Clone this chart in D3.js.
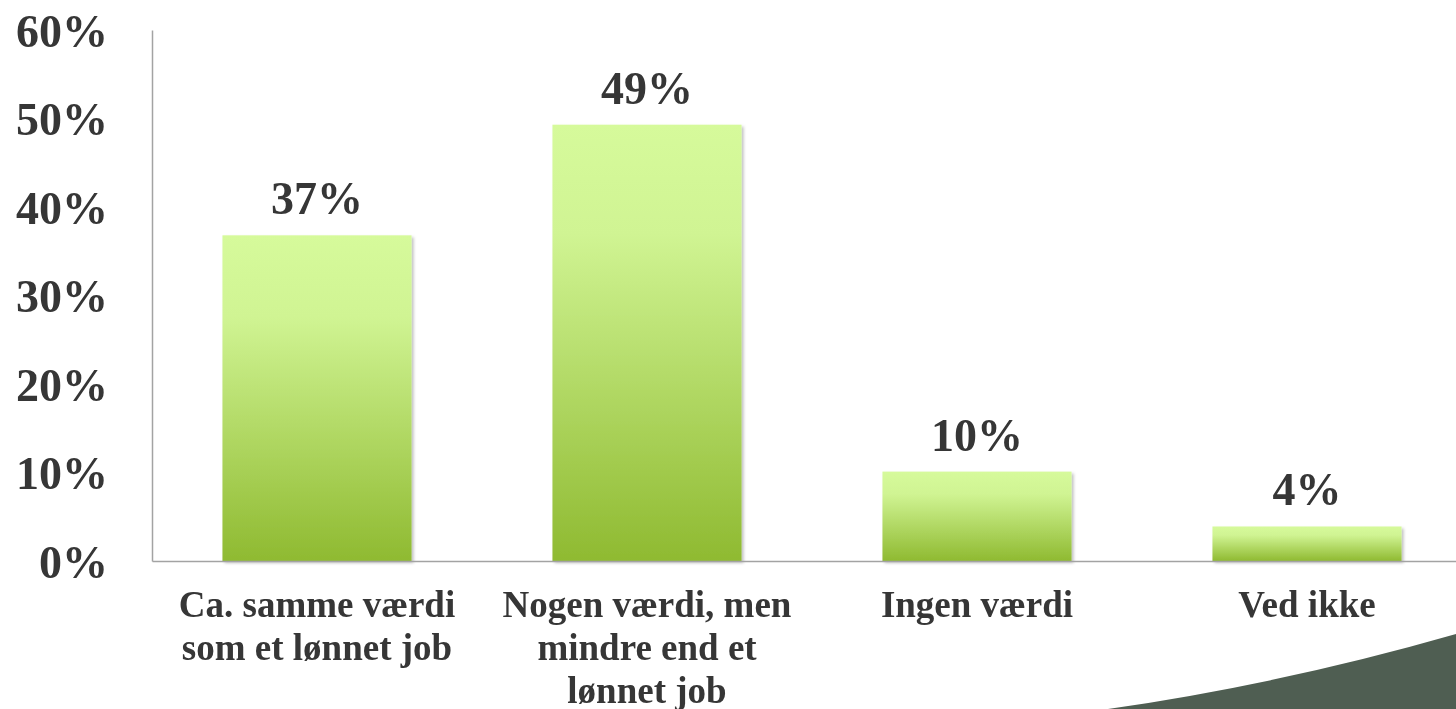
<!DOCTYPE html>
<head>
  <meta charset="utf-8">
  <script src="https://d3js.org/d3.v7.min.js"></script>
  <style>
    body {
      margin:0;position:fixed;top:0;right:0;bottom:0;left:0;
      background:#ffffff;
      font-family: "Liberation Serif", "Times New Roman", serif;
    }
    text { fill: #363636; font-weight: bold; }
    .axis path { stroke: #a3a3a3; stroke-width: 1.5px; }
  </style>
</head>

<body>
  <script>
    var categories = [
      "Ca. samme værdi|som et lønnet job",
      "Nogen værdi, men|mindre end et|lønnet job",
      "Ingen værdi",
      "Ved ikke"
    ];
    var values = [36.8, 49.3, 10.1, 3.9];
    var tickValues = [0, 10, 20, 30, 40, 50, 60];

    var W = 1456, H = 709;
    var plotLeft = 152, plotTop = 30, plotBottom = 561;

    var svg = d3.select("body").append("svg")
      .attr("width", W)
      .attr("height", H);

    var defs = svg.append("defs");
    var grad = defs.append("linearGradient")
      .attr("id", "barFill")
      .attr("x1", 0).attr("y1", 0).attr("x2", 0).attr("y2", 1);
    grad.append("stop").attr("offset", "0%").attr("stop-color", "#d6fa9b");
    grad.append("stop").attr("offset", "25%").attr("stop-color", "#d0f493");
    grad.append("stop").attr("offset", "100%").attr("stop-color", "#8fba31");

    var shadow = defs.append("filter")
      .attr("id", "shadow")
      .attr("x", "-10%").attr("y", "-10%")
      .attr("width", "130%").attr("height", "130%");
    shadow.append("feDropShadow")
      .attr("dx", 2).attr("dy", 2)
      .attr("stdDeviation", 1.5)
      .attr("flood-color", "#000")
      .attr("flood-opacity", 0.25);

    // decorative corner swoosh
    svg.append("path")
      .attr("d", "M1108,709 Q1282,684 1456,634 L1456,709 Z")
      .style("fill", "#4f5e52");

    var x = d3.scaleBand()
      .domain(categories)
      .range([plotLeft, plotLeft + 4 * 330])
      .paddingInner(0.427)
      .paddingOuter(0.2135);

    var y = d3.scaleLinear()
      .domain([0, 60])
      .range([plotBottom, plotTop]);

    var yaxis = d3.axisLeft(y)
      .tickValues(tickValues)
      .tickSize(0)
      .tickSizeOuter(0)
      .tickPadding(44)
      .tickFormat(function(d) { return d + "%"; });

    var gy = svg.append("g")
      .attr("class", "axis")
      .attr("transform", "translate(" + plotLeft + ",0)")
      .call(yaxis);
    gy.selectAll("text")
      .attr("dy", "0.35em")
      .style("font-size", "46px")
      .style("font-family", "'Liberation Serif', 'Times New Roman', serif");

    var xaxis = d3.axisBottom(x)
      .tickSize(0)
      .tickSizeOuter(0)
      .tickFormat("");

    var gx = svg.append("g")
      .attr("class", "axis")
      .attr("transform", "translate(0," + plotBottom + ")")
      .call(xaxis);

    gx.selectAll(".tick")
      .append("text")
      .attr("text-anchor", "middle")
      .style("font-size", "37px")
      .style("font-family", "'Liberation Serif', 'Times New Roman', serif")
      .each(function(d) {
        var t = d3.select(this);
        d.split("|").forEach(function(line, i) {
          t.append("tspan")
            .attr("x", 0)
            .attr("y", 56 + i * 43)
            .text(line);
        });
      });

    var data = categories.map(function(c, i) { return { c: c, v: values[i] }; });

    svg.selectAll(".bar")
      .data(data)
      .enter()
      .append("rect")
      .attr("class", "bar")
      .attr("x", function(d) { return x(d.c); })
      .attr("y", function(d) { return y(d.v); })
      .attr("width", x.bandwidth())
      .attr("height", function(d) { return plotBottom - y(d.v); })
      .style("fill", "url(#barFill)")
      .attr("filter", "url(#shadow)");

    gx.raise();

    svg.selectAll(".label")
      .data(data)
      .enter()
      .append("text")
      .attr("class", "label")
      .attr("x", function(d) { return x(d.c) + x.bandwidth() / 2; })
      .attr("y", function(d) { return y(d.v) - 21; })
      .attr("text-anchor", "middle")
      .style("font-size", "46px")
      .text(function(d) { return d3.format(".0f")(d.v) + "%"; });
  </script>
</body>
